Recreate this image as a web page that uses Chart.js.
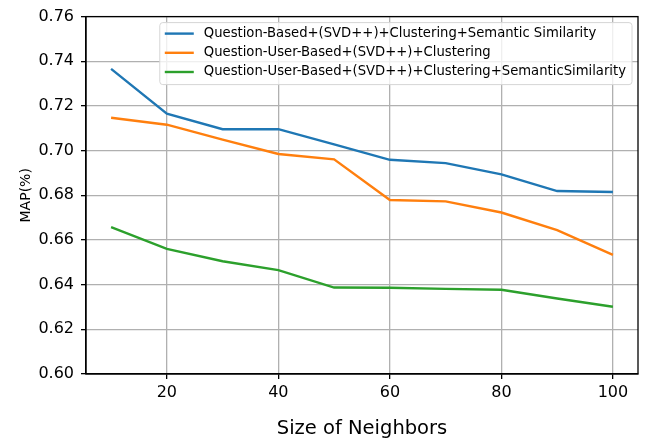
<!DOCTYPE html>
<html>
<head>
<meta charset="utf-8">
<script src="https://cdn.jsdelivr.net/npm/chart.js@4.4.1/dist/chart.umd.min.js"></script>
<style>
  html, body { margin: 0; padding: 0; background: #fff; }
  canvas { display: block; }
</style>
</head>
<body>
<canvas id="map-chart" width="645" height="447"></canvas>
<script>
const neighbors = [10, 20, 30, 40, 50, 60, 70, 80, 90, 100];
const qbSemantic = [0.7366, 0.7165, 0.7096, 0.7096, 0.7028, 0.6959, 0.6944, 0.6894, 0.6819, 0.6815];
const qubClustering = [0.7147, 0.7116, 0.7049, 0.6985, 0.6961, 0.6779, 0.6773, 0.6723, 0.6644, 0.6533];
const qubSemantic = [0.6657, 0.6560, 0.6505, 0.6465, 0.6387, 0.6386, 0.6381, 0.6377, 0.6338, 0.6301];

const seriesNames = [
  'Question-Based+(SVD++)+Clustering+Semantic Similarity',
  'Question-User-Based+(SVD++)+Clustering',
  'Question-User-Based+(SVD++)+Clustering+SemanticSimilarity'
];
const xTicks = [20, 40, 60, 80, 100];
const yTicks = [0.60, 0.62, 0.64, 0.66, 0.68, 0.70, 0.72, 0.74, 0.76];

const FONT = "'DejaVu Sans', sans-serif";

// legend box drawn inside the plot, top right (matplotlib style)
const innerLegend = {
  id: 'innerLegend',
  afterDraw(chart) {
    const c = chart.ctx;
    const area = chart.chartArea;
    c.save();
    // frame on all four sides
    c.strokeStyle = '#000';
    c.lineWidth = 1.3;
    c.strokeRect(area.left, area.top, area.right - area.left, area.bottom - area.top);

    c.font = '13.2px ' + FONT;
    const sets = chart.data.datasets;
    const maxW = Math.max(...sets.map(d => c.measureText(d.label).width));
    const right = area.right - 6;
    const left = right - 6 - maxW - 44;
    const top = area.top + 6;
    const rowH = 19.2;
    const h = 62;

    c.beginPath();
    c.roundRect(left, top, right - left, h, 3);
    c.fillStyle = 'rgba(255,255,255,0.8)';
    c.fill();
    c.strokeStyle = '#d6d6d6';
    c.lineWidth = 1;
    c.stroke();

    c.textBaseline = 'middle';
    c.textAlign = 'left';
    sets.forEach((d, i) => {
      const y = top + 11 + i * rowH;
      c.strokeStyle = d.borderColor;
      c.lineWidth = 2.4;
      c.beginPath();
      c.moveTo(left + 5, y);
      c.lineTo(left + 34, y);
      c.stroke();
      c.fillStyle = '#000';
      c.fillText(d.label, left + 44, y);
    });
    c.restore();
  }
};

const colors = ['#1f77b4', '#ff7f0e', '#2ca02c'];
const values = [qbSemantic, qubClustering, qubSemantic];

new Chart(document.getElementById('map-chart').getContext('2d'), {
  type: 'line',
  data: {
    datasets: values.map((v, i) => ({
      label: seriesNames[i],
      data: neighbors.map((n, j) => ({ x: n, y: v[j] })),
      borderColor: colors[i],
      backgroundColor: colors[i],
      borderWidth: 2.4,
      pointRadius: 0,
      fill: false,
      tension: 0
    }))
  },
  options: {
    responsive: false,
    animation: false,
    layout: { padding: { top: 16, right: 7, bottom: 0, left: 0 } },
    plugins: {
      legend: { display: false },
      tooltip: { enabled: false }
    },
    scales: {
      x: {
        type: 'linear',
        min: 5.5,
        max: 104.5,
        afterBuildTicks: scale => { scale.ticks = xTicks.map(v => ({ value: v })); },
        afterFit: scale => { scale.height = 73; },
        grid: { color: '#b0b0b0', lineWidth: 1.3, tickColor: '#000', tickLength: 5, tickWidth: 1.3 },
        border: { color: '#000', width: 1.3 },
        ticks: { color: '#000', padding: 4.4, maxRotation: 0, font: { family: FONT, size: 16 } },
        title: {
          display: true,
          text: 'Size of Neighbors',
          color: '#000',
          font: { family: FONT, size: 19.5 },
          padding: { top: 0, bottom: 6.3 }
        }
      },
      y: {
        min: 0.60,
        max: 0.76,
        afterBuildTicks: scale => { scale.ticks = yTicks.map(v => ({ value: v })); },
        afterFit: scale => { scale.width = 86; },
        grid: { color: '#b0b0b0', lineWidth: 1.3, tickColor: '#000', tickLength: 5, tickWidth: 1.3 },
        border: { color: '#000', width: 1.3 },
        ticks: {
          color: '#000',
          padding: 7,
          font: { family: FONT, size: 16 },
          callback: v => v.toFixed(2)
        },
        title: {
          display: true,
          text: 'MAP(%)',
          color: '#000',
          font: { family: FONT, size: 14 },
          padding: { top: 18, bottom: 0 }
        }
      }
    }
  },
  plugins: [innerLegend]
});
</script>
</body>
</html>
